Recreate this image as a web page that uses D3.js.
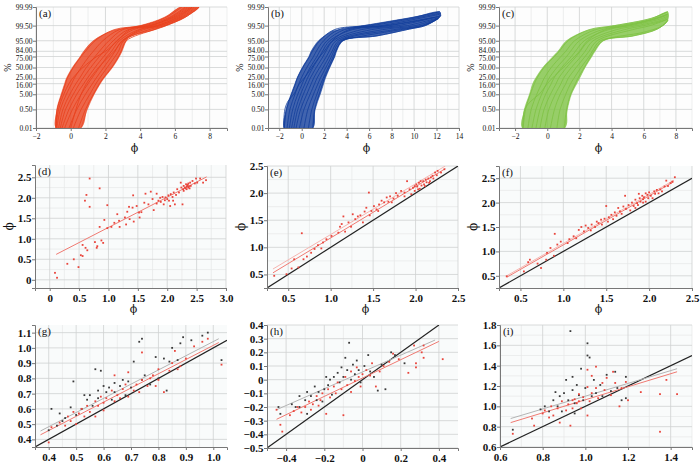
<!DOCTYPE html>
<html>
<head>
<meta charset="utf-8">
<script src="https://cdn.jsdelivr.net/npm/d3@7"></script>
<style>
  body { margin: 0; background: #fff; }
  svg { display: block; }
  svg text { font-family: "Liberation Serif", "Times New Roman", serif; }
</style>
</head>
<body>
<div id="chart"></div>
<script>
// ---- top row: cumulative curves, [phi, percent] ----
const pctTicks = [0.01, 0.5, 5, 16, 25, 50, 75, 84, 95, 99.5, 99.99];

const bandA = [
  [[-0.85,0.01],[-0.8,0.5],[-0.55,5],[-0.35,16],[-0.25,25],[0.1,50],[0.55,75],[0.75,84],[1.3,95],[2.4,98.8],[4.0,99.5],[5.4,99.9],[6.3,99.99]],
  [[0.6,0.01],[0.95,0.5],[1.35,5],[1.7,16],[1.9,25],[2.4,50],[2.8,75],[2.95,84],[3.2,95],[3.4,97],[4.85,99],[5.5,99.5],[6.6,99.9],[7.4,99.99]]
];
const curvesA = [
  [[-0.85,0.01],[-0.78,0.5],[-0.5,5],[-0.3,16],[-0.2,25],[0.15,50],[0.6,75],[0.85,84],[1.4,95],[2.5,99],[4.1,99.5],[5.5,99.9],[6.4,99.99]],
  [[-0.8,0.01],[-0.6,0.5],[-0.25,5],[0.05,16],[0.2,25],[0.6,50],[1.05,75],[1.3,84],[1.85,95],[2.8,99],[4.3,99.5],[5.7,99.9],[6.6,99.99]],
  [[-0.7,0.01],[-0.45,0.5],[-0.05,5],[0.3,16],[0.5,25],[0.9,50],[1.4,75],[1.65,84],[2.2,95],[3.0,99],[4.5,99.5],[5.9,99.9],[6.8,99.99]],
  [[-0.6,0.01],[-0.3,0.5],[0.15,5],[0.5,16],[0.7,25],[1.15,50],[1.65,75],[1.9,84],[2.45,95],[3.3,99],[4.7,99.5],[6.0,99.9],[6.9,99.99]],
  [[-0.5,0.01],[-0.1,0.5],[0.35,5],[0.75,16],[0.95,25],[1.4,50],[1.9,75],[2.15,84],[2.65,95],[3.6,99],[4.9,99.5],[6.2,99.9],[7.0,99.99]],
  [[-0.35,0.01],[0.1,0.5],[0.6,5],[1.0,16],[1.2,25],[1.65,50],[2.1,75],[2.35,84],[2.8,95],[3.9,99],[5.1,99.5],[6.3,99.9],[7.1,99.99]],
  [[-0.1,0.01],[0.35,0.5],[0.85,5],[1.25,16],[1.45,25],[1.9,50],[2.35,75],[2.55,84],[2.95,95],[4.2,99],[5.2,99.5],[6.4,99.9],[7.2,99.99]],
  [[0.15,0.01],[0.6,0.5],[1.1,5],[1.45,16],[1.65,25],[2.1,50],[2.55,75],[2.75,84],[3.05,95],[4.5,99],[5.4,99.5],[6.5,99.9],[7.3,99.99]],
  [[0.45,0.01],[0.85,0.5],[1.3,5],[1.65,16],[1.85,25],[2.35,50],[2.75,75],[2.9,84],[3.2,95],[4.8,99],[5.5,99.5],[6.6,99.9],[7.4,99.99]],
  [[-0.85,0.01],[-0.7,0.5],[-0.4,5],[-0.1,16],[0.1,25],[0.7,50],[1.5,75],[2.0,84],[2.7,95],[3.4,99],[4.6,99.5],[5.8,99.9],[6.7,99.99]],
  [[0.0,0.01],[0.3,0.5],[0.6,5],[0.9,16],[1.1,25],[1.6,50],[2.2,75],[2.5,84],[3.0,95],[4.0,99],[5.0,99.5],[6.1,99.9],[7.0,99.99]]
];

const bandB = [
  [[-1.55,0.01],[-1.4,0.5],[-0.95,5],[-0.6,16],[-0.43,25],[0.05,50],[0.64,75],[0.84,84],[1.5,95],[2.8,98.8],[3.3,99],[5.5,99.5],[8.1,99.8],[9.9,99.9],[12.3,99.97]],
  [[1.0,0.01],[1.2,0.5],[1.65,5],[1.95,16],[2.1,25],[2.5,50],[2.95,75],[3.1,84],[3.7,95],[6.7,97.4],[9.6,99.1],[11.0,99.5],[12.1,99.86],[12.4,99.93]]
];
const curvesB = [
  [[-1.55,0.01],[-1.35,0.5],[-0.9,5],[-0.55,16],[-0.4,25],[0.1,50],[0.7,75],[0.95,84],[1.6,95],[2.9,99],[5.6,99.5],[10.0,99.9],[12.3,99.97]],
  [[-1.3,0.01],[-1.05,0.5],[-0.6,5],[-0.25,16],[-0.05,25],[0.45,50],[1.05,75],[1.3,84],[1.95,95],[3.3,99],[6.2,99.5],[10.5,99.9],[12.4,99.96]],
  [[-1.1,0.01],[-0.8,0.5],[-0.35,5],[0.05,16],[0.25,25],[0.75,50],[1.35,75],[1.6,84],[2.25,95],[3.8,99],[7.0,99.5],[11.0,99.9],[12.4,99.95]],
  [[-0.9,0.01],[-0.55,0.5],[-0.1,5],[0.3,16],[0.5,25],[1.0,50],[1.6,75],[1.85,84],[2.5,95],[4.5,99],[7.8,99.5],[11.5,99.88],[12.4,99.93]],
  [[-0.7,0.01],[-0.35,0.5],[0.15,5],[0.55,16],[0.75,25],[1.3,50],[1.9,75],[2.15,84],[2.8,95],[5.3,99],[8.6,99.5],[12.3,99.92]],
  [[-0.5,0.01],[-0.1,0.5],[0.45,5],[0.85,16],[1.05,25],[1.6,50],[2.2,75],[2.45,84],[3.05,95],[6.2,99],[9.4,99.5],[12.3,99.9]],
  [[-0.2,0.01],[0.2,0.5],[0.75,5],[1.15,16],[1.35,25],[1.9,50],[2.45,75],[2.7,84],[3.3,95],[7.2,99],[10.1,99.5],[12.2,99.88]],
  [[0.2,0.01],[0.55,0.5],[1.05,5],[1.45,16],[1.65,25],[2.15,50],[2.65,75],[2.85,84],[3.5,95],[8.2,99],[10.6,99.5],[12.1,99.86]],
  [[0.6,0.01],[0.9,0.5],[1.35,5],[1.7,16],[1.9,25],[2.35,50],[2.8,75],[3.0,84],[3.65,95],[6.7,97.4],[9.6,99.1],[11.0,99.5],[12.1,99.86]],
  [[1.0,0.01],[1.15,0.5],[1.55,5],[1.85,16],[2.0,25],[2.45,50],[2.9,75],[3.05,84],[3.6,95],[5.0,97],[8.8,99],[10.8,99.5],[12.2,99.87]],
  [[-1.6,0.01],[-1.5,0.5],[-1.2,2],[-0.7,5],[-0.2,16],[0.2,25],[0.9,50],[1.6,75],[2.0,84],[2.7,95],[4.2,99],[7.5,99.5],[11.8,99.9]]
];

const bandC = [
  [[-1.55,0.01],[-1.42,0.5],[-1.1,5],[-0.9,16],[-0.73,25],[-0.27,50],[0.36,75],[0.67,84],[1.2,95],[2.45,98.8],[4.1,99.48],[6.4,99.86],[7.5,99.97]],
  [[1.1,0.01],[1.25,0.5],[1.5,5],[1.83,16],[2.0,25],[2.35,50],[2.77,75],[2.97,84],[3.5,95],[5.35,97.4],[6.85,99.1],[7.5,99.8]]
];
const curvesC = [
  [[-1.5,0.01],[-1.35,0.5],[-1.05,5],[-0.8,16],[-0.65,25],[-0.2,50],[0.45,75],[0.75,84],[1.3,95],[2.6,99],[4.2,99.5],[6.5,99.88],[7.5,99.97]],
  [[-1.2,0.01],[-1.0,0.5],[-0.65,5],[-0.35,16],[-0.2,25],[0.25,50],[0.85,75],[1.15,84],[1.7,95],[3.0,99],[4.6,99.5],[6.7,99.87],[7.5,99.95]],
  [[-0.95,0.01],[-0.7,0.5],[-0.35,5],[-0.05,16],[0.1,25],[0.6,50],[1.2,75],[1.45,84],[2.0,95],[3.4,99],[4.9,99.5],[6.8,99.86],[7.5,99.94]],
  [[-0.7,0.01],[-0.45,0.5],[-0.1,5],[0.25,16],[0.4,25],[0.9,50],[1.5,75],[1.75,84],[2.3,95],[3.8,99],[5.2,99.5],[7.0,99.85],[7.5,99.92]],
  [[-0.45,0.01],[-0.2,0.5],[0.2,5],[0.55,16],[0.7,25],[1.2,50],[1.8,75],[2.05,84],[2.6,95],[4.3,99],[5.6,99.5],[7.1,99.82],[7.5,99.9]],
  [[-0.15,0.01],[0.1,0.5],[0.5,5],[0.85,16],[1.0,25],[1.5,50],[2.1,75],[2.35,84],[2.85,95],[4.8,99],[6.0,99.5],[7.3,99.82],[7.5,99.87]],
  [[0.2,0.01],[0.45,0.5],[0.8,5],[1.15,16],[1.3,25],[1.8,50],[2.35,75],[2.6,84],[3.1,95],[5.3,99],[6.4,99.5],[7.5,99.85]],
  [[0.6,0.01],[0.8,0.5],[1.15,5],[1.45,16],[1.65,25],[2.1,50],[2.6,75],[2.8,84],[3.3,95],[5.35,97.4],[6.85,99.1],[7.5,99.8]],
  [[1.05,0.01],[1.2,0.5],[1.45,5],[1.75,16],[1.9,25],[2.3,50],[2.7,75],[2.9,84],[3.45,95],[6.0,98.5],[7.2,99.5],[7.5,99.82]],
  [[-1.5,0.01],[-1.4,0.5],[-1.0,2],[-0.5,5],[0.0,16],[0.3,25],[1.0,50],[1.7,75],[2.0,84],[2.5,95],[3.6,99],[5.0,99.5],[7.0,99.9],[7.5,99.95]]
];

// ---- middle row: scatter, red series ----
const pointsD = [[0.09,0.17],[0.125,0.05],[0.3,0.39],[0.41,0.5],[0.49,0.31],[0.53,0.6],[0.56,0.58],[0.56,0.85],[0.61,0.78],[0.64,0.72],[0.6,1.93],[0.625,2.07],[0.68,1.78],[0.68,2.47],[0.77,0.92],[0.81,0.82],[0.8,0.78],[0.85,2.23],[0.85,1.29],[0.88,0.96],[0.91,0.9],[0.93,1.46],[0.98,1.82],[0.98,1.26],[1.05,1.29],[1.1,1.39],[1.15,1.6],[1.18,1.44],[1.19,1.29],[1.28,1.52],[1.3,1.35],[1.32,1.66],[1.35,1.78],[1.36,1.48],[1.41,1.76],[1.42,2.06],[1.43,1.42],[1.48,1.8],[1.52,1.64],[1.53,1.52],[1.56,1.65],[1.61,1.88],[1.63,2.1],[1.68,1.84],[1.72,2.15],[1.75,1.97],[1.77,1.7],[1.82,2.1],[1.85,1.93],[1.89,1.9],[1.92,2.02],[1.94,1.84],[1.97,2.01],[2.0,1.97],[2.02,2.06],[2.05,1.8],[2.06,2.09],[2.09,2.02],[2.1,1.93],[2.11,2.13],[2.13,1.84],[2.15,2.07],[2.17,2.21],[2.2,2.13],[2.23,2.37],[2.24,2.25],[2.26,1.84],[2.27,2.21],[2.28,2.29],[2.3,2.25],[2.32,2.33],[2.33,2.21],[2.34,2.29],[2.36,2.35],[2.36,2.25],[2.38,2.23],[2.39,2.37],[2.4,2.29],[2.43,2.41],[2.47,2.35],[2.49,2.47],[2.51,2.37],[2.56,2.47],[2.61,2.37],[2.66,2.43],[2.33,2.27],[2.35,2.32],[2.37,2.28],[2.31,2.23],[2.28,2.17],[1.88,2.0],[1.96,1.94],[2.03,1.93],[1.82,1.86]];
const fitD = [[0.11,0.62],[2.67,2.51]];

const pointsE = [[0.335,0.475],[0.48,0.505],[0.54,0.61],[0.57,0.78],[0.62,0.63],[0.66,1.26],[0.68,0.78],[0.72,0.83],[0.77,0.9],[0.81,0.97],[0.85,1.04],[0.91,1.09],[0.89,0.98],[1.01,1.21],[1.09,1.27],[1.11,1.38],[1.13,1.43],[1.15,1.57],[1.17,1.29],[1.21,1.46],[1.26,1.61],[1.29,1.52],[1.32,1.57],[1.35,1.59],[1.38,1.46],[1.4,1.66],[1.42,1.73],[1.45,2.01],[1.46,1.59],[1.48,1.67],[1.51,1.76],[1.54,1.7],[1.57,1.79],[1.6,1.86],[1.63,1.83],[1.66,1.92],[1.68,1.84],[1.7,1.94],[1.74,1.9],[1.77,2.0],[1.79,1.95],[1.83,2.04],[1.87,2.01],[1.9,2.22],[1.93,2.07],[1.95,1.98],[1.97,2.1],[1.99,2.04],[2.01,2.16],[2.02,2.12],[2.04,2.19],[2.05,2.08],[2.07,2.14],[2.09,2.22],[2.1,2.16],[2.12,2.25],[2.13,2.2],[2.15,2.27],[2.17,2.22],[2.18,2.29],[2.2,2.32],[2.21,2.27],[2.23,2.38],[2.25,2.33],[2.26,2.41],[2.3,2.38],[2.34,2.44],[2.16,2.19],[2.06,2.22],[1.99,2.13],[2.11,2.13],[2.03,2.07],[1.87,1.94],[1.72,1.83],[1.56,1.67],[1.24,1.38],[0.95,1.15]];
const fitE = [[0.32,0.53],[2.35,2.45]];
const fitE2 = [[0.32,0.6],[2.35,2.5]];

const pointsF = [[0.34,0.49],[0.54,0.59],[0.59,0.78],[0.61,0.83],[0.7,0.75],[0.74,0.66],[0.8,0.83],[0.81,0.97],[0.85,1.07],[0.89,0.91],[0.9,1.36],[0.93,1.14],[0.97,1.2],[1.05,1.17],[1.07,1.25],[1.12,1.31],[1.15,1.27],[1.18,1.44],[1.21,1.5],[1.24,1.41],[1.26,1.53],[1.29,1.48],[1.32,1.43],[1.33,1.55],[1.37,1.5],[1.39,1.61],[1.41,1.58],[1.44,1.65],[1.45,1.55],[1.48,1.67],[1.5,1.93],[1.52,1.61],[1.53,1.7],[1.56,1.75],[1.58,1.66],[1.6,1.8],[1.62,1.73],[1.64,1.89],[1.66,1.82],[1.68,1.77],[1.7,1.92],[1.72,2.14],[1.73,1.87],[1.76,1.95],[1.78,1.84],[1.8,2.0],[1.82,1.93],[1.84,2.06],[1.86,1.99],[1.88,2.18],[1.89,2.09],[1.9,2.02],[1.92,2.14],[1.93,2.07],[1.94,2.11],[1.96,2.19],[1.96,2.02],[1.98,2.16],[1.99,2.09],[2.0,2.21],[2.02,2.14],[2.04,2.09],[2.06,2.23],[2.07,2.18],[2.09,2.26],[2.11,2.19],[2.13,2.27],[2.15,2.23],[2.18,2.33],[2.2,2.45],[2.22,2.34],[2.25,2.4],[2.27,2.43],[2.3,2.52],[1.93,2.0],[1.87,1.95],[1.84,1.89]];
const fitF = [[0.34,0.47],[2.29,2.43]];
const fitF2 = [[0.34,0.5],[2.29,2.46]];

// ---- bottom row: scatter, black and red series ----
const blackG = [[0.41,0.6],[0.4,0.46],[0.44,0.57],[0.45,0.52],[0.46,0.54],[0.48,0.61],[0.49,0.78],[0.5,0.56],[0.52,0.6],[0.54,0.66],[0.55,0.69],[0.56,0.62],[0.57,0.86],[0.58,0.72],[0.58,0.67],[0.59,0.85],[0.6,0.75],[0.61,0.71],[0.62,0.74],[0.63,0.66],[0.64,0.77],[0.66,0.75],[0.67,0.79],[0.68,0.69],[0.69,0.78],[0.7,0.74],[0.71,0.91],[0.73,1.04],[0.74,0.79],[0.74,1.06],[0.75,0.82],[0.77,0.76],[0.79,0.94],[0.8,0.8],[0.82,0.93],[0.83,0.72],[0.84,0.91],[0.85,1.0],[0.87,0.92],[0.88,1.03],[0.89,1.07],[0.92,1.05],[0.96,1.08],[0.98,1.1],[1.03,0.92],[0.53,0.69],[0.64,0.71],[0.43,0.49]];
const redG = [[0.4,0.38],[0.41,0.48],[0.44,0.51],[0.46,0.49],[0.47,0.55],[0.48,0.52],[0.49,0.58],[0.5,0.5],[0.51,0.57],[0.52,0.6],[0.53,0.55],[0.54,0.62],[0.55,0.58],[0.57,0.65],[0.57,0.55],[0.58,0.62],[0.59,0.68],[0.6,0.59],[0.6,0.64],[0.61,0.67],[0.63,0.72],[0.64,0.65],[0.65,0.69],[0.66,0.67],[0.67,0.73],[0.68,0.76],[0.69,0.68],[0.71,0.72],[0.72,0.76],[0.73,0.71],[0.74,0.97],[0.74,0.79],[0.76,0.75],[0.77,0.8],[0.78,0.82],[0.79,0.75],[0.8,0.79],[0.8,0.86],[0.82,0.71],[0.84,0.85],[0.85,0.9],[0.86,0.98],[0.87,0.86],[0.88,0.88],[0.9,0.93],[0.93,1.01],[0.96,1.04],[0.98,1.06],[1.03,0.89],[0.69,0.84],[0.64,0.82]];
const fitGBlack = [[0.37,0.455],[1.02,1.06]];
const fitGRed = [[0.37,0.43],[1.02,1.035]];

const blackH = [[-0.44,-0.2],[-0.43,-0.25],[-0.37,-0.18],[-0.35,-0.2],[-0.33,-0.12],[-0.3,-0.15],[-0.29,-0.09],[-0.27,-0.12],[-0.25,-0.05],[-0.24,-0.15],[-0.23,-0.09],[-0.21,-0.16],[-0.2,-0.07],[-0.18,-0.04],[-0.17,0.0],[-0.16,-0.11],[-0.15,0.02],[-0.13,0.05],[-0.12,-0.02],[-0.11,0.09],[-0.1,0.02],[-0.09,0.16],[-0.08,0.07],[-0.07,0.27],[-0.06,0.0],[-0.05,0.11],[-0.04,0.04],[-0.03,0.14],[-0.02,0.07],[-0.01,-0.02],[0.01,0.1],[0.03,0.18],[0.04,0.06],[0.06,0.02],[0.08,-0.08],[0.1,0.11],[0.12,-0.07],[0.15,0.2],[0.17,0.18],[0.22,0.12],[-0.33,-0.2],[-0.29,-0.25],[-0.19,0.02]];
const redH = [[-0.45,-0.22],[-0.43,-0.33],[-0.42,-0.38],[-0.38,-0.26],[-0.36,-0.23],[-0.34,-0.2],[-0.32,-0.24],[-0.3,-0.2],[-0.28,-0.16],[-0.27,-0.22],[-0.26,-0.18],[-0.24,-0.12],[-0.23,-0.19],[-0.22,-0.15],[-0.21,-0.1],[-0.19,-0.25],[-0.18,-0.07],[-0.17,-0.13],[-0.15,-0.05],[-0.14,-0.1],[-0.13,-0.02],[-0.11,-0.07],[-0.1,-0.26],[-0.09,0.02],[-0.08,-0.04],[-0.06,0.06],[-0.06,-0.09],[-0.04,-0.01],[-0.03,0.09],[-0.02,0.02],[-0.01,-0.05],[0.0,0.04],[0.02,0.07],[0.04,0.03],[0.05,0.12],[0.07,-0.05],[0.09,0.06],[0.11,0.1],[0.14,0.13],[0.16,0.19],[0.19,0.15],[0.24,0.05],[0.28,0.12],[0.28,0.09],[0.31,0.2],[0.32,0.25],[0.32,0.16],[0.42,0.15],[0.27,0.25]];
const fitHBlack = [[-0.45,-0.22],[0.38,0.29]];
const fitHRed = [[-0.45,-0.29],[0.4,0.28]];

const blackI = [[0.66,0.77],[0.79,0.97],[0.81,1.0],[0.83,0.95],[0.85,1.06],[0.87,1.0],[0.88,1.1],[0.89,0.95],[0.9,1.13],[0.91,1.26],[0.92,1.06],[0.93,1.74],[0.94,1.16],[0.94,1.29],[0.95,1.03],[0.96,1.21],[0.97,1.11],[0.98,1.37],[0.99,1.06],[1.0,1.18],[1.01,1.5],[1.01,1.62],[1.02,1.48],[1.03,1.1],[1.04,1.26],[1.05,1.13],[1.07,1.21],[1.08,1.1],[1.1,1.31],[1.12,1.15],[1.14,1.34],[1.15,1.18],[1.17,1.06],[1.19,1.29],[1.19,1.08],[0.95,0.93],[0.86,1.14]];
const redI = [[0.66,0.73],[0.75,0.88],[0.76,0.81],[0.8,0.93],[0.81,0.96],[0.83,0.89],[0.84,1.0],[0.85,0.91],[0.87,0.98],[0.88,0.84],[0.89,1.05],[0.91,0.96],[0.92,1.02],[0.93,0.81],[0.94,1.06],[0.94,0.98],[0.95,1.07],[0.96,1.03],[0.97,1.12],[0.97,1.05],[0.98,0.98],[0.99,1.09],[1.01,1.19],[1.01,1.36],[1.02,1.05],[1.03,1.13],[1.03,1.3],[1.05,1.18],[1.05,1.39],[1.06,1.08],[1.08,1.23],[1.09,1.16],[1.1,1.28],[1.12,1.11],[1.13,1.34],[1.14,1.23],[1.16,1.0],[1.17,1.18],[1.19,1.24],[1.2,1.06],[1.26,1.14],[1.35,0.75],[1.35,1.12],[1.38,1.26],[1.43,1.12],[1.01,0.91]];
const fitIBlack = [[0.65,0.88],[1.43,1.37]];
const fitIRed = [[0.65,0.84],[1.43,1.34]];

// ---- helpers ----
function probit(p) {
  const a=[-39.69683028665376,220.9460984245205,-275.9285104469687,138.3577518672690,-30.66479806614716,2.506628277459239];
  const b=[-54.47609879822406,161.5858368580409,-155.6989798598866,66.80131188771972,-13.28068155288572];
  const c=[-0.007784894002430293,-0.3223964580411365,-2.400758277161838,-2.549732539343734,4.374664141464968,2.938163982698783];
  const d=[0.007784695709041462,0.3224671290700398,2.445134137142996,3.754408661907416];
  const pl = 0.02425;
  if (p < pl) { const q = Math.sqrt(-2*Math.log(p)); return (((((c[0]*q+c[1])*q+c[2])*q+c[3])*q+c[4])*q+c[5])/((((d[0]*q+d[1])*q+d[2])*q+d[3])*q+1); }
  if (p > 1-pl) { const q = Math.sqrt(-2*Math.log(1-p)); return -(((((c[0]*q+c[1])*q+c[2])*q+c[3])*q+c[4])*q+c[5])/((((d[0]*q+d[1])*q+d[2])*q+d[3])*q+1); }
  const q = p-0.5, r = q*q;
  return (((((a[0]*r+a[1])*r+a[2])*r+a[3])*r+a[4])*r+a[5])*q/(((((b[0]*r+b[1])*r+b[2])*r+b[3])*r+b[4])*r+1);
}
const serif = "\"Liberation Serif\", \"Times New Roman\", serif";
const phiFont = "\"DejaVu Serif\", serif";
const fmt1 = v => v === 0 ? "0" : d3.format(".1f")(v);
const fmtInt = v => d3.format("d")(v);
// small vertical nudges so the crowded probability labels don't collide
const pctNudge = { 84: -1.6, 75: 1.6, 25: -1.6, 16: 1.6 };

const svg = d3.select("#chart").append("svg").attr("width", 700).attr("height", 463);
let clipId = 0;

function panel(o) {
  const g = svg.append("g").attr("transform", "translate(" + o.x + "," + o.y + ")");
  const w = o.w, h = o.h;
  const x = d3.scaleLinear().domain(o.xDomain).range([0, w]);
  let yLin, y;
  if (o.probit) {
    yLin = d3.scaleLinear().domain([probit(0.0001), probit(0.9999)]).range([h, 0]);
    y = v => yLin(probit(v / 100));
  } else {
    yLin = d3.scaleLinear().domain(o.yDomain).range([h, 0]);
    y = yLin;
  }

  g.append("rect").attr("width", w).attr("height", h).attr("fill", o.bg || "#f9fbfb");

  // grid
  (o.xMinor || []).forEach(v => g.append("line").attr("x1", x(v)).attr("x2", x(v)).attr("y1", 0).attr("y2", h).attr("stroke", "#e6e8e8").attr("stroke-width", 0.7));
  (o.yMinor || []).forEach(v => g.append("line").attr("y1", y(v)).attr("y2", y(v)).attr("x1", 0).attr("x2", w).attr("stroke", "#e6e8e8").attr("stroke-width", 0.7));
  o.xTicks.forEach(v => g.append("line").attr("x1", x(v)).attr("x2", x(v)).attr("y1", 0).attr("y2", h).attr("stroke", "#cfd2d2").attr("stroke-width", 0.8));
  o.yTicks.forEach(v => g.append("line").attr("y1", y(v)).attr("y2", y(v)).attr("x1", 0).attr("x2", w).attr("stroke", "#cfd2d2").attr("stroke-width", 0.8));

  const id = "clip" + (clipId++);
  g.append("clipPath").attr("id", id).append("rect").attr("width", w).attr("height", h);
  const plot = g.append("g").attr("clip-path", "url(#" + id + ")");

  const line = d3.line().x(d => x(d[0])).y(d => y(d[1]));

  if (o.curves) {
    const band = d3.line().x(d => x(d[0])).y(d => y(d[1])).curve(d3.curveCatmullRomClosed);
    plot.append("path").attr("d", band(o.band[0].concat(o.band[1].slice().reverse())))
      .attr("fill", o.color).attr("fill-opacity", 0.8).attr("stroke", "none");
    const cl = d3.line().x(d => x(d[0])).y(d => y(d[1])).curve(d3.curveCatmullRom);
    plot.selectAll("path.c").data(o.curves).join("path").attr("class", "c")
      .attr("d", cl).attr("fill", "none").attr("stroke", o.color)
      .attr("stroke-width", 0.8);
    [o.band[0], o.band[1]].forEach(b => plot.append("path").attr("d", cl(b))
      .attr("fill", "none").attr("stroke", o.color).attr("stroke-width", 0.8).attr("stroke-opacity", 0.7));
  }

  if (o.oneToOne) {
    plot.append("path").attr("d", line(o.oneToOne.map(v => [v, v])))
      .attr("stroke", "#222").attr("stroke-width", 1.2).attr("fill", "none");
  }
  (o.fits || []).forEach(f => plot.append("path").attr("d", line(f.data))
    .attr("stroke", f.color).attr("stroke-width", 1).attr("fill", "none"));

  (o.series || []).forEach(s => {
    plot.selectAll(null).data(s.data).join("rect")
      .attr("x", d => x(d[0]) - 0.9).attr("y", d => y(d[1]) - 0.9)
      .attr("width", 1.8).attr("height", 1.8).attr("fill", s.color);
  });

  // axes
  const xa = d3.axisBottom(x).tickValues(o.xTicks).tickSize(3).tickFormat(o.xFmt);
  const ya = d3.axisLeft(yLin).tickSize(3);
  if (o.probit) ya.tickValues(o.yTicks.map(v => probit(v / 100))).tickFormat((v, i) => d3.format(".2f")(o.yTicks[i]));
  else ya.tickValues(o.yTicks).tickFormat(o.yFmt);

  const gx = g.append("g").attr("transform", "translate(0," + h + ")").call(xa);
  const gy = g.append("g").call(ya);
  [gx, gy].forEach(a => {
    a.attr("font-family", null);
    a.select(".domain").attr("stroke", "#777");
    a.selectAll(".tick line").attr("stroke", "#777");
    a.selectAll("text").style("font-family", serif).style("font-size", o.tickSize + "px")
      .style("font-weight", o.tickWeight).attr("fill", "#111");
  });
  gy.selectAll("text").attr("x", -3.5);
  if (o.probit) {
    gy.selectAll("text").attr("y", (v, i) => pctNudge[o.yTicks[i]] || 0);
  }

  g.append("text").attr("x", 3).attr("y", 10).style("font-family", serif).style("font-size", "11px")
    .attr("fill", "#111").text(o.label);

  if (o.xTitle) g.append("text").attr("x", w / 2 + 3).attr("y", h + o.xTitleDy).attr("text-anchor", "middle")
    .style("font-family", phiFont).style("font-size", "11px").attr("fill", "#111").text(o.xTitle);
  if (o.yTitle) g.append("text").attr("transform", "translate(" + (-o.yTitleDx) + "," + (h / 2) + ") rotate(-90)")
    .attr("text-anchor", "middle").style("font-family", o.yTitleFont).style("font-size", o.yTitleSize + "px")
    .attr("fill", "#111").text(o.yTitle);
}

const phi = "\u03D5";
const topCommon = { y: 7, h: 121, probit: true, yTicks: pctTicks, tickSize: 7.5, tickWeight: "normal",
  xFmt: fmtInt, xTitle: phi, xTitleDy: 23.5, yTitle: "%", yTitleDx: 25, yTitleSize: 10, yTitleFont: serif, bg: "#fdfdfd" };

panel(Object.assign({}, topCommon, { x: 36, w: 191, xDomain: [-2, 9], xTicks: [-2, 0, 2, 4, 6, 8],
  xMinor: [-1, 1, 3, 5, 7, 9], label: "(a)", color: "#e8401c", band: bandA, curves: curvesA }));
panel(Object.assign({}, topCommon, { x: 268, w: 191, xDomain: [-3, 14], xTicks: [-2, 0, 2, 4, 6, 8, 10, 12, 14],
  xMinor: [-1, 1, 3, 5, 7, 9, 11, 13], label: "(b)", color: "#123d9b", band: bandB, curves: curvesB }));
panel(Object.assign({}, topCommon, { x: 499, w: 193, xDomain: [-3, 9], xTicks: [-2, 0, 2, 4, 6, 8],
  xMinor: [-1, 1, 3, 5, 7, 9], label: "(c)", color: "#7dc242", band: bandC, curves: curvesC }));

const midCommon = { y: 165, h: 123, tickSize: 11, tickWeight: "bold", xFmt: fmt1, yFmt: fmt1,
  xTitle: phi, xTitleDy: 24.5, yTitle: phi, yTitleDx: 22, yTitleSize: 12, yTitleFont: phiFont };
const red = "#e9453c", redFit = "#f07a72", pinkFit = "#f5b5b0", greyFit = "#b4b4b4";

panel(Object.assign({}, midCommon, { x: 35, w: 191, xDomain: [-0.25, 3.0], yDomain: [-0.2, 2.8],
  xTicks: [0, 0.5, 1, 1.5, 2, 2.5, 3], yTicks: [0, 0.5, 1, 1.5, 2, 2.5],
  xMinor: [0.25, 0.75, 1.25, 1.75, 2.25, 2.75], yMinor: [0.25, 0.75, 1.25, 1.75, 2.25],
  label: "(d)", series: [{ data: pointsD, color: red }], fits: [{ data: fitD, color: redFit }] }));
panel(Object.assign({}, midCommon, { x: 267, y: 166, h: 122, w: 191, xDomain: [0.25, 2.5], yDomain: [0.25, 2.5],
  xTicks: [0.5, 1, 1.5, 2, 2.5], yTicks: [0.5, 1, 1.5, 2, 2.5],
  xMinor: [0.75, 1.25, 1.75, 2.25], yMinor: [0.75, 1.25, 1.75, 2.25], oneToOne: [0.25, 2.5],
  label: "(e)", series: [{ data: pointsE, color: red }],
  fits: [{ data: fitE2, color: pinkFit }, { data: fitE, color: redFit }] }));
panel(Object.assign({}, midCommon, { x: 499, y: 166, h: 122, w: 193, xDomain: [0.25, 2.5], yDomain: [0.25, 2.75],
  xTicks: [0.5, 1, 1.5, 2, 2.5], yTicks: [0.5, 1, 1.5, 2, 2.5],
  xMinor: [0.75, 1.25, 1.75, 2.25], yMinor: [0.75, 1.25, 1.75, 2.25], oneToOne: [0.25, 2.5],
  label: "(f)", series: [{ data: pointsF, color: red }],
  fits: [{ data: fitF2, color: pinkFit }, { data: fitF, color: redFit }] }));

const botCommon = { y: 325, h: 122, tickSize: 11, tickWeight: "bold", xFmt: fmt1, yFmt: fmt1 };
const dark = "#3a3a3a";

panel(Object.assign({}, botCommon, { x: 35, w: 192, xDomain: [0.35, 1.05], yDomain: [0.35, 1.15],
  xTicks: [0.4, 0.5, 0.6, 0.7, 0.8, 0.9, 1.0], yTicks: [0.4, 0.5, 0.6, 0.7, 0.8, 0.9, 1.0, 1.1],
  xMinor: [0.45, 0.55, 0.65, 0.75, 0.85, 0.95], oneToOne: [0.35, 1.05],
  label: "(g)", series: [{ data: blackG, color: dark }, { data: redG, color: red }],
  fits: [{ data: fitGBlack, color: greyFit }, { data: fitGRed, color: redFit }] }));
panel(Object.assign({}, botCommon, { x: 267, h: 123, w: 191, xDomain: [-0.5, 0.5], yDomain: [-0.5, 0.4],
  xTicks: [-0.4, -0.2, 0, 0.2, 0.4], yTicks: [-0.5, -0.4, -0.3, -0.2, -0.1, 0, 0.1, 0.2, 0.3, 0.4],
  xMinor: [-0.3, -0.1, 0.1, 0.3], oneToOne: [-0.5, 0.4],
  label: "(h)", series: [{ data: blackH, color: dark }, { data: redH, color: red }],
  fits: [{ data: fitHBlack, color: greyFit }, { data: fitHRed, color: redFit }] }));
panel(Object.assign({}, botCommon, { x: 500, w: 192, xDomain: [0.6, 1.5], yDomain: [0.6, 1.8],
  xTicks: [0.6, 0.8, 1.0, 1.2, 1.4], yTicks: [0.6, 0.8, 1.0, 1.2, 1.4, 1.6, 1.8],
  xMinor: [0.7, 0.9, 1.1, 1.3, 1.5], yMinor: [0.7, 0.9, 1.1, 1.3, 1.5, 1.7], oneToOne: [0.6, 1.5],
  label: "(i)", series: [{ data: blackI, color: dark }, { data: redI, color: red }],
  fits: [{ data: fitIBlack, color: greyFit }, { data: fitIRed, color: redFit }] }));
</script>
</body>
</html>
